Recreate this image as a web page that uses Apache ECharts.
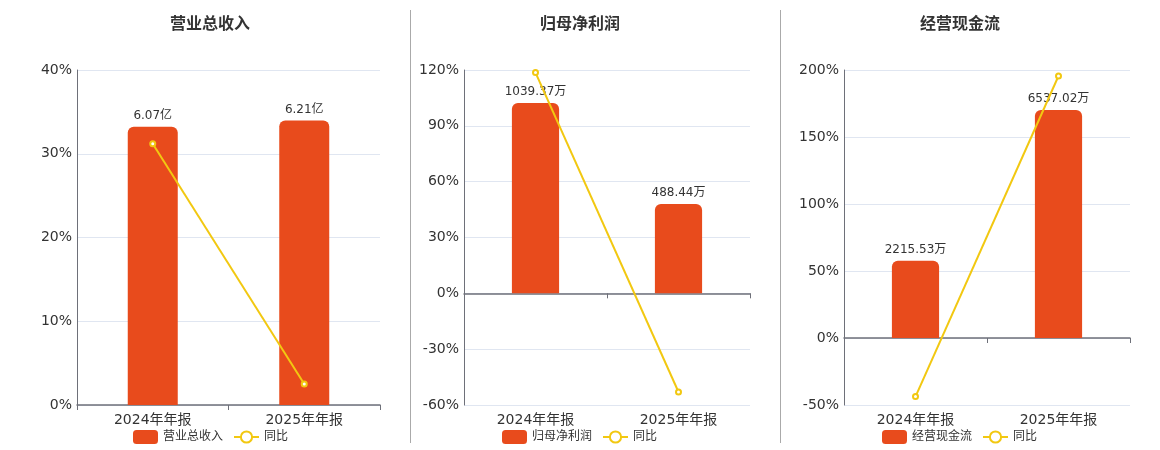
<!DOCTYPE html>
<html>
<head>
<meta charset="utf-8">
<script src="https://cdn.jsdelivr.net/npm/echarts@6/dist/echarts.min.js"></script>
<style>
  html, body { margin: 0; padding: 0; background: #fff; }
  #main { width: 1160px; height: 450px; }
</style>
</head>
<body>
<div id="main"></div>
<script>
// 数据
var categories = ['2024年年报', '2025年年报'];

var revenue = [6.07, 6.21];          // 亿
var revenueYoy = [31.2, 2.5];        // %
var netProfit = [1039.37, 488.44];   // 万
var netProfitYoy = [118.6, -53.0];   // %
var cashFlow = [2215.53, 6537.02];   // 万
var cashFlowYoy = [-43.7, 195.5];    // %

var titles = ['营业总收入', '归母净利润', '经营现金流'];
var units = ['亿', '万', '万'];

var barColor = '#E84B1C';
var lineColor = '#F2C811';

var chart = echarts.init(document.getElementById('main'));

var grids = [
    { left: 77, width: 303, top: 70, bottom: 45 },
    { left: 464, width: 286, top: 70, bottom: 45 },
    { left: 844, width: 286, top: 70, bottom: 45 }
];
var titleCenters = [205, 575, 955];
var legendLefts = [128, 497, 877];

// 左轴（百分比）
var pctAxes = [
    { min: 0, max: 40, interval: 10 },
    { min: -60, max: 120, interval: 30 },
    { min: -50, max: 200, interval: 50 }
];
// 隐藏轴（金额）
var valAxes = [
    { min: 0, max: 7.31 },
    { min: -610, max: 1220 },
    { min: -1920, max: 7680 }
];

var barData = [revenue, netProfit, cashFlow];
var lineData = [revenueYoy, netProfitYoy, cashFlowYoy];

var xAxis = [], yAxis = [], series = [], title = [], legend = [];

for (var i = 0; i < 3; i++) {
    title.push({
        text: titles[i],
        left: titleCenters[i],
        top: 12,
        textAlign: 'center',
        textStyle: { fontSize: 16, fontWeight: 'bold', color: '#333' }
    });
    legend.push({
        data: [titles[i], '同比'],
        left: legendLefts[i],
        top: 425,
        itemWidth: 25,
        itemHeight: 14,
        itemGap: 10,
        textStyle: { fontSize: 12, color: '#333' }
    });
    xAxis.push({
        type: 'category',
        gridIndex: i,
        data: categories,
        axisLine: { lineStyle: { color: '#6E7079', width: 1.5 } },
        axisTick: { show: true, lineStyle: { color: '#6E7079' } },
        axisLabel: { fontSize: 14, color: '#333', margin: 8 }
    });
    yAxis.push({
        type: 'value',
        gridIndex: i,
        min: pctAxes[i].min,
        max: pctAxes[i].max,
        interval: pctAxes[i].interval,
        axisLine: { show: true, lineStyle: { color: '#6E7079' } },
        axisTick: { show: false },
        axisLabel: { formatter: '{value}%', fontSize: 14, color: '#333', margin: 5 },
        splitLine: { lineStyle: { color: '#E0E6F1' } }
    });
    yAxis.push({
        type: 'value',
        gridIndex: i,
        min: valAxes[i].min,
        max: valAxes[i].max,
        show: false,
        splitLine: { show: false }
    });
    (function (unit) {
        series.push({
            name: titles[i],
            type: 'bar',
            xAxisIndex: i,
            yAxisIndex: i * 2 + 1,
            data: barData[i],
            barWidth: '33%',
            itemStyle: { color: barColor, borderRadius: [6, 6, 0, 0] },
            label: {
                show: true,
                position: 'top',
                distance: 5,
                fontSize: 12,
                color: '#333',
                formatter: function (p) { return p.value + unit; }
            }
        });
    })(units[i]);
    series.push({
        name: '同比',
        type: 'line',
        xAxisIndex: i,
        yAxisIndex: i * 2,
        data: lineData[i],
        symbol: 'emptyCircle',
        symbolSize: 5,
        z: 5,
        lineStyle: { color: lineColor, width: 2 },
        itemStyle: { color: lineColor, borderWidth: 1.5 }
    });
}

var option = {
    animation: false,
    textStyle: { fontFamily: 'DejaVu Sans, Noto Sans CJK SC, sans-serif' },
    title: title,
    legend: legend,
    grid: grids,
    xAxis: xAxis,
    yAxis: yAxis,
    series: series,
    graphic: [
        { type: 'line', shape: { x1: 410.5, y1: 10, x2: 410.5, y2: 443 }, style: { stroke: '#AAAAAA', lineWidth: 1 } },
        { type: 'line', shape: { x1: 780.5, y1: 10, x2: 780.5, y2: 443 }, style: { stroke: '#AAAAAA', lineWidth: 1 } }
    ]
};

chart.setOption(option);
</script>
</body>
</html>
